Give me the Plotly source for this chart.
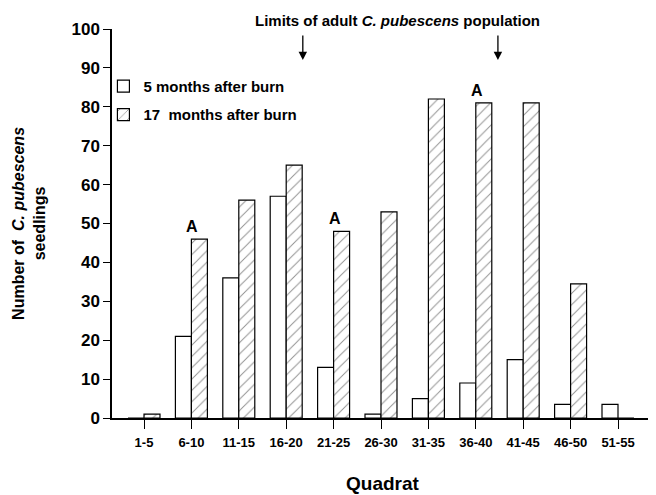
import plotly.graph_objects as go

categories = ["1-5", "6-10", "11-15", "16-20", "21-25", "26-30",
              "31-35", "36-40", "41-45", "46-50", "51-55"]
months5 = [0, 21, 36, 57, 13, 1, 5, 9, 15, 3.5, 3.5]
months17 = [1, 46, 56, 65, 48, 53, 82, 81, 81, 34.5, 0]
a_categories = ["6-10", "21-25", "36-40"]
y_ticks = list(range(0, 101, 10))

FONT = "Liberation Sans, Arial, sans-serif"

fig = go.Figure()
fig.add_trace(go.Bar(
    x=categories, y=months5, name="5 months after burn",
    legendgroup="g1",
    marker=dict(color="white", line=dict(color="black", width=1.2)),
))
fig.add_trace(go.Bar(
    x=categories, y=months17, name="17  months after burn",
    legendgroup="g2",
    marker=dict(color="white", line=dict(color="black", width=1.2),
                pattern=dict(shape="/", fgcolor="#222", bgcolor="white",
                             size=8, solidity=0.12)),
))

annotations = []
for c in a_categories:
    i = categories.index(c)
    annotations.append(dict(
        x=c, y=months17[i], xref="x", yref="y", text="A", showarrow=False,
        xanchor="center", yanchor="bottom", xshift=1, yshift=2,
        font=dict(family=FONT, size=16, color="black", weight="bold")))

# arrows marking limits of adult population
for xp in [0.356, 0.720]:
    annotations.append(dict(
        x=xp, y=92, xref="paper", yref="y", ax=0, ay=-26, axref="pixel",
        ayref="pixel", text="", showarrow=True, arrowhead=2, arrowsize=1.3,
        arrowwidth=1.3, arrowcolor="black"))

annotations.append(dict(
    x=0.533, y=1.0, xref="paper", yref="paper", yshift=9,
    text="Limits of adult <i>C. pubescens</i> population", showarrow=False,
    xanchor="center", yanchor="middle",
    font=dict(family=FONT, size=15, color="black", weight="bold")))

annotations.append(dict(
    x=-0.156, y=0.5, xref="paper", yref="paper", textangle=-90,
    text="Number of  <i>C. pubescens</i><br>seedlings", showarrow=False,
    xanchor="center", yanchor="middle",
    font=dict(family=FONT, size=16, color="black", weight="bold")))

annotations.append(dict(
    x=0.505, y=-0.168, xref="paper", yref="paper",
    text="Quadrat", showarrow=False, xanchor="center", yanchor="middle",
    font=dict(family=FONT, size=19, color="black", weight="bold")))

fig.update_layout(
    width=656, height=495,
    margin=dict(l=112, r=8, t=29, b=77),
    paper_bgcolor="white", plot_bgcolor="white",
    barmode="group", bargap=0.325, bargroupgap=0,
    showlegend=True,
    legend=dict(x=-0.016, y=0.895, xanchor="left", yanchor="top",
                bgcolor="rgba(0,0,0,0)", tracegroupgap=6,
                font=dict(family=FONT, size=15, color="black", weight="bold")),
    annotations=annotations,
    xaxis=dict(
        type="category", range=[-0.675, 10.633],
        showline=True, linecolor="black", linewidth=1.5,
        ticks="outside", ticklen=9, tickwidth=1.2, tickcolor="black",
        ticklabelstandoff=3,
        showgrid=False, zeroline=False,
        tickfont=dict(family=FONT, size=13, color="black", weight="bold"),
    ),
    yaxis=dict(
        range=[0, 100], tickvals=y_ticks,
        showline=True, linecolor="black", linewidth=1.5,
        ticks="outside", ticklen=7, tickwidth=1.2, tickcolor="black",
        showgrid=False, zeroline=False,
        tickfont=dict(family=FONT, size=17, color="black", weight="bold"),
    ),
)

fig.write_html("out.html", config={"displayModeBar": False},
               post_script="document.body.style.margin='0';")
